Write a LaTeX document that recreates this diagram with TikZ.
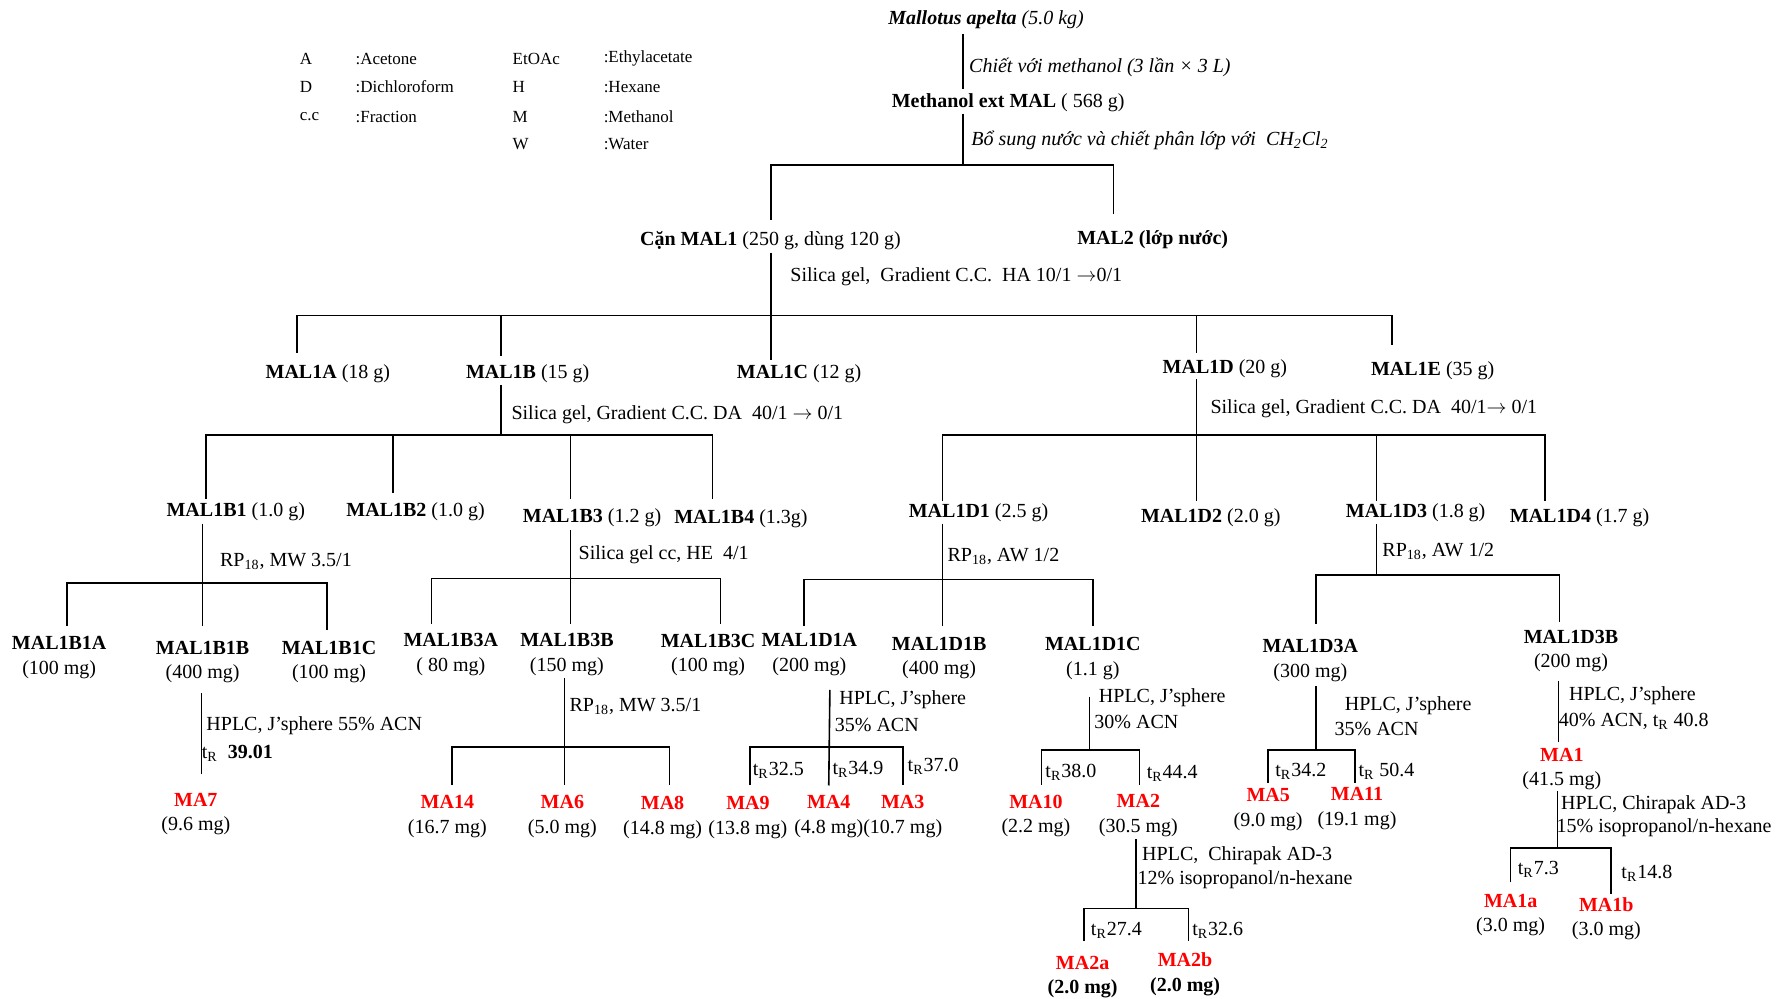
\documentclass[tikz,border=0pt]{standalone}
\usepackage{fontspec}
\setmainfont{Liberation Serif}
\definecolor{mared}{RGB}{255,0,0}
\newcommand{\tR}{t\textsubscript{R}}
\newcommand{\cpd}[2]{{\color{mared}\bfseries #1}\\#2}
\newcommand{\arr}{\ensuremath{\rightarrow}}
\begin{document}
\begin{tikzpicture}[x=0.5692pt,y=-0.5692pt,
  every node/.style={inner sep=0pt, yshift=-1.4pt, font=\fontsize{10}{12.3}\selectfont},
  lab/.style={anchor=west},
  two/.style={align=center},
  leg/.style={anchor=west, font=\fontsize{8.5}{10}\selectfont},
  ln/.style={line width=0.8pt}]
\useasboundingbox (0,0) rectangle (1568,877);

% legend
\node[leg] (l1a) at (263,49) {A};
\node[leg] (l1b) at (312,49) {:Acetone};
\node[leg] (l1c) at (450,49) {EtOAc};
\node[leg] (l1d) at (530,49) {:Ethylacetate};
\node[leg] (l2a) at (263,74) {D};
\node[leg] (l2b) at (312,74) {:Dichloroform};
\node[leg] (l2c) at (450,74) {H};
\node[leg] (l2d) at (530,74) {:Hexane};
\node[leg] (l3a) at (263,100) {c.c};
\node[leg] (l3b) at (312,100) {:Fraction};
\node[leg] (l3c) at (450,100) {M};
\node[leg] (l3d) at (530,100) {:Methanol};
\node[leg] (l4c) at (450,124) {W};
\node[leg] (l4d) at (530,124) {:Water};

% top
\node[lab] (src) at (780,15) {\textbf{\textit{Mallotus apelta}} \textit{(5.0 kg)}};
\node[lab] (s1) at (851,57) {\textit{Chiết với methanol (3 lần × 3 L)}};
\node[lab] (mal) at (783,88) {\textbf{Methanol ext MAL} ( 568 g)};
\node[lab] (s2) at (853,121) {\textit{Bổ sung nước và chiết phân lớp với\ \ CH\textsubscript{2}Cl\textsubscript{2}}};
\draw[ln] (846,30) -- (846,78);
\draw[ln] (846,100) -- (846,145);
\draw[ln] (677,193) -- (677,145) -- (978,145) -- (978,188);
\node[lab] (mal1) at (562,209) {\textbf{Cặn MAL1} (250 g, dùng 120 g)};
\node[lab] (mal2) at (946,208) {\textbf{MAL2 (lớp nước)}};
\node[lab] (s3) at (694,241) {Silica gel,\ \ Gradient C.C.\ \ HA 10/1 \arr0/1};
\draw[ln] (677,222) -- (677,316);
\draw[ln] (261,310) -- (261,277) -- (1223,277) -- (1223,303);
\draw[ln] (440,277) -- (440,313);
\draw[ln] (1051,277) -- (1051,310);

\node[lab] (m1a) at (233,326) {\textbf{MAL1A} (18 g)};
\node[lab] (m1b) at (409,326) {\textbf{MAL1B} (15 g)};
\node[lab] (m1c) at (647,326) {\textbf{MAL1C} (12 g)};
\node[lab] (m1d) at (1021,321) {\textbf{MAL1D} (20 g)};
\node[lab] (m1e) at (1204,323) {\textbf{MAL1E} (35 g)};

% MAL1B split
\draw[ln] (440,338) -- (440,382);
\node[lab] (s4) at (449,362) {Silica gel, Gradient C.C. DA\ \ 40/1 \arr\ 0/1};
\draw[ln] (181,438) -- (181,382) -- (626,382) -- (626,438);
\draw[ln] (345,382) -- (345,433);
\draw[ln] (501,382) -- (501,438);
\node[lab] (b1) at (146,447) {\textbf{MAL1B1} (1.0 g)};
\node[lab] (b2) at (304,447) {\textbf{MAL1B2} (1.0 g)};
\node[lab] (b3) at (459,452) {\textbf{MAL1B3} (1.2 g)};
\node[lab] (b4) at (592,453) {\textbf{MAL1B4} (1.3g)};

% MAL1D split
\draw[ln] (1051,333) -- (1051,440);
\node[lab] (s5) at (1063,357) {Silica gel, Gradient C.C. DA\ \ 40/1\arr\ 0/1};
\draw[ln] (828,440) -- (828,382) -- (1357,382) -- (1357,440);
\draw[ln] (1209,382) -- (1209,440);
\node[lab] (d1) at (798,448) {\textbf{MAL1D1} (2.5 g)};
\node[lab] (d2) at (1002,452) {\textbf{MAL1D2} (2.0 g)};
\node[lab] (d3) at (1182,448) {\textbf{MAL1D3} (1.8 g)};
\node[lab] (d4) at (1326,452) {\textbf{MAL1D4} (1.7 g)};

% MAL1B1 subtree
\draw[ln] (178,460) -- (178,550);
\node[lab] (s6) at (193,491) {RP\textsubscript{18}, MW 3.5/1};
\draw[ln] (59,550) -- (59,512) -- (287,512) -- (287,553);
\node[two] (b1a) at (52,575) {\textbf{MAL1B1A}\\(100 mg)};
\node[two] (b1b) at (178,579) {\textbf{MAL1B1B}\\(400 mg)};
\node[two] (b1c) at (289,579) {\textbf{MAL1B1C}\\(100 mg)};
\draw[ln] (177,609) -- (177,680);
\node[lab] (s7) at (181,635) {HPLC, J’sphere 55\% ACN};
\node[lab] (s7b) at (177,659) {\tR\ \ \textbf{39.01}};
\node[two] (ma7) at (172,712.5) {\cpd{MA7}{(9.6 mg)}};

% MAL1B3 subtree
\draw[ln] (501,466) -- (501,548);
\node[lab] (s8) at (508,485) {Silica gel cc, HE\ \ 4/1};
\draw[ln] (379,548) -- (379,508) -- (633,508) -- (633,548);
\node[two] (b3a) at (396,572.5) {\textbf{MAL1B3A}\\( 80 mg)};
\node[two] (b3b) at (498,572.5) {\textbf{MAL1B3B}\\(150 mg)};
\node[two] (b3c) at (622,573) {\textbf{MAL1B3C}\\(100 mg)};
\draw[ln] (496,596) -- (496,690);
\node[lab] (s9) at (500,618) {RP\textsubscript{18}, MW 3.5/1};
\draw[ln] (397,690) -- (397,656) -- (588,656) -- (588,690);
\node[two] (ma14) at (393,715) {\cpd{MA14}{(16.7 mg)}};
\node[two] (ma6) at (494,715) {\cpd{MA6}{(5.0 mg)}};
\node[two] (ma8) at (582,715.5) {\cpd{MA8}{(14.8 mg)}};

% MAL1D1 subtree
\draw[ln] (828,460) -- (828,550);
\node[lab] (s10) at (832,486) {RP\textsubscript{18}, AW 1/2};
\draw[ln] (706,550) -- (706,509) -- (960,509) -- (960,550);
\node[two] (d1a) at (711,572.5) {\textbf{MAL1D1A}\\(200 mg)};
\node[two] (d1b) at (825,575.5) {\textbf{MAL1D1B}\\(400 mg)};
\node[two] (d1c) at (960,576) {\textbf{MAL1D1C}\\(1.1 g)};
\draw[ln] (729,606) -- (728,690);
\node[lab] (s11) at (737,612) {HPLC, J’sphere};
\node[lab] (s11b) at (733,634) {35\% ACN};
\draw[ln] (659,690) -- (659,656) -- (793,656) -- (793,690);
\node[lab] (t1) at (661,674) {\tR32.5};
\node[lab] (t2) at (731,673) {\tR34.9};
\node[lab] (t3) at (797,671) {\tR37.0};
\node[two] (ma9) at (657,715.5) {\cpd{MA9}{(13.8 mg)}};
\node[two] (ma4) at (728,715) {\cpd{MA4}{(4.8 mg)}};
\node[two] (ma3) at (793,715) {\cpd{MA3}{(10.7 mg)}};

% MAL1D1C subtree
\draw[ln] (957,612) -- (957,659);
\node[lab] (s12) at (965,610) {HPLC, J’sphere};
\node[lab] (s12b) at (961,632) {30\% ACN};
\draw[ln] (915,690) -- (915,659) -- (1001,659) -- (1001,690);
\node[lab] (t4) at (918,676) {\tR38.0};
\node[lab] (t5) at (1007,677) {\tR44.4};
\node[two] (ma10) at (910,714.5) {\cpd{MA10}{(2.2 mg)}};
\node[two] (ma2) at (1000,714) {\cpd{MA2}{(30.5 mg)}};
\draw[ln] (998,737) -- (998,798);
\node[lab] (s13) at (1003,749) {HPLC,\ \ Chirapak AD-3};
\node[lab] (s13b) at (999,770) {12\% isopropanol/n-hexane};
\draw[ln] (952,827) -- (952,798) -- (1044,798) -- (1044,827);
\node[lab] (t6) at (958,815) {\tR27.4};
\node[lab] (t7) at (1047,815) {\tR32.6};
\node[two] (ma2a) at (951,856) {\cpd{MA2a}{\textbf{(2.0 mg)}}};
\node[two] (ma2b) at (1041,853.5) {\cpd{MA2b}{\textbf{(2.0 mg)}}};

% MAL1D3 subtree
\draw[ln] (1209,460) -- (1209,505);
\node[lab] (s14) at (1214,482) {RP\textsubscript{18}, AW 1/2};
\draw[ln] (1156,548) -- (1156,505) -- (1370,505) -- (1370,546);
\node[two] (d3a) at (1151,578) {\textbf{MAL1D3A}\\(300 mg)};
\node[two] (d3b) at (1380,569.5) {\textbf{MAL1D3B}\\(200 mg)};
\draw[ln] (1156,603) -- (1156,658);
\node[lab] (s15) at (1181,617) {HPLC, J’sphere};
\node[lab] (s15b) at (1172,638) {35\% ACN};
\draw[ln] (1114,688) -- (1114,659) -- (1190,659) -- (1190,688);
\node[lab] (t8) at (1120,675) {\tR34.2};
\node[lab] (t9) at (1193,675) {\tR\ 50.4};
\node[two] (ma5) at (1114,708.5) {\cpd{MA5}{(9.0 mg)}};
\node[two] (ma11) at (1192,708) {\cpd{MA11}{(19.1 mg)}};
\draw[ln] (1369,598) -- (1369,652);
\node[lab] (s16) at (1378,609) {HPLC, J’sphere};
\node[lab] (s16b) at (1369,631) {40\% ACN, \tR\ 40.8};
\node[two] (ma1) at (1372,673) {\cpd{MA1}{(41.5 mg)}};
\draw[ln] (1368,695) -- (1368,745);
\node[lab] (s17) at (1371,704) {HPLC, Chirapak AD-3};
\node[lab] (s17b) at (1367,725) {15\% isopropanol/n-hexane};
\draw[ln] (1327,775) -- (1327,745) -- (1415,745) -- (1415,785);
\node[lab] (t10) at (1333,761) {\tR7.3};
\node[lab] (t11) at (1424,765) {\tR14.8};
\node[two] (ma1a) at (1327,801.5) {\cpd{MA1a}{(3.0 mg)}};
\node[two] (ma1b) at (1411,804.5) {\cpd{MA1b}{(3.0 mg)}};
\end{tikzpicture}
\end{document}
